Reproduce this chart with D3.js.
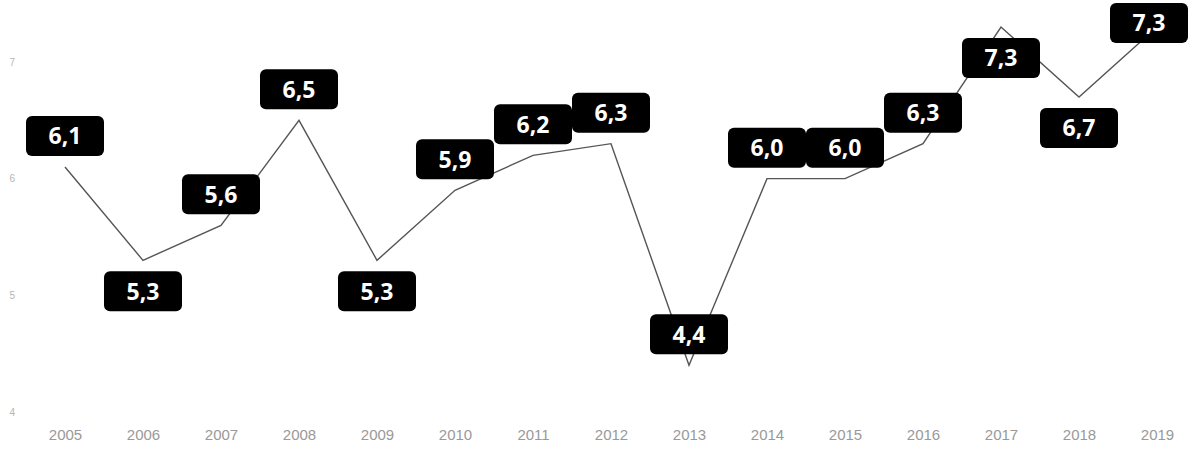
<!DOCTYPE html>
<html>
<head>
<meta charset="utf-8">
<script src="https://cdn.jsdelivr.net/npm/d3@7"></script>
<style>
  body { margin: 0; background: #fff; }
  svg { display: block; font-family: "Open Sans", "DejaVu Sans", sans-serif; }
  .xaxis text { fill: #999; font-size: 15px; }
  .yaxis text { fill: #b5b5b5; font-size: 10px; }
  .tag text { fill: #fff; font-size: 23px; font-weight: bold; }
</style>
</head>
<body>
<div id="chart"></div>
<script>
// data
var years = ["2005","2006","2007","2008","2009","2010","2011","2012","2013","2014","2015","2016","2017","2018","2019"];
var values = [6.1, 5.3, 5.6, 6.5, 5.3, 5.9, 6.2, 6.3, 4.4, 6.0, 6.0, 6.3, 7.3, 6.7, 7.3];
var yTicks = [4, 5, 6, 7];
// years whose tag sits under the point
var tagBelow = ["2006","2009","2017","2018"];

var width = 1188, height = 450;
var boxW = 78, boxH = 40;

var svg = d3.select("#chart").append("svg")
  .attr("width", width)
  .attr("height", height);

var x = d3.scalePoint().domain(years).range([65, 1157]);
var y = d3.scaleLinear().domain([4, 7]).range([412, 62]);

//axes
svg.append("g")
  .attr("class", "xaxis")
  .attr("transform", "translate(0,426)")
  .call(d3.axisBottom(x).tickSize(0).tickPadding(3))
  .call(function(g){ g.select(".domain").remove(); });

svg.append("g")
  .attr("class", "yaxis")
  .attr("transform", "translate(19,0)")
  .call(d3.axisLeft(y).tickValues(yTicks).tickSize(0).tickPadding(4).tickFormat(d3.format("d")))
  .call(function(g){ g.select(".domain").remove(); });

//line
var pts = years.map(function(d, i){ return [d, values[i]]; });
var line = d3.line()
  .x(function(d){ return x(d[0]); })
  .y(function(d){ return y(d[1]); });

svg.append("path")
  .datum(pts)
  .attr("d", line)
  .attr("fill", "none")
  .attr("stroke", "#555")
  .attr("stroke-width", 1.4);

//tags
var tags = svg.selectAll(".tag").data(pts).enter().append("g")
  .attr("class", "tag")
  .attr("transform", function(d){
    var cx = x(d[0]), cy = y(d[1]);
    var top = tagBelow.indexOf(d[0]) >= 0 ? cy + 11 : cy - 11 - boxH;
    if (top < 3) top = 3;
    var left = Math.min(cx - boxW / 2, width - boxW);
    return "translate(" + left + "," + top + ")";
  });

tags.append("rect")
  .attr("width", boxW)
  .attr("height", boxH)
  .attr("rx", 6)
  .attr("ry", 6)
  .attr("fill", "#000");

tags.append("text")
  .attr("x", boxW / 2)
  .attr("y", boxH / 2)
  .attr("dy", "0.36em")
  .attr("text-anchor", "middle")
  .text(function(d){ return d[1].toFixed(1).replace(".", ","); });
</script>
</body>
</html>
